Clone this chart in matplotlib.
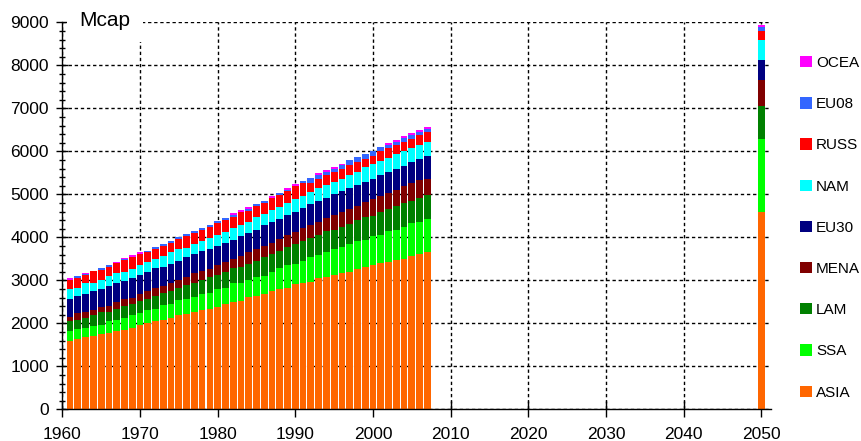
import matplotlib
matplotlib.use("Agg")
import matplotlib.pyplot as plt
from matplotlib.ticker import MultipleLocator
from matplotlib.patches import Patch
import numpy as np

plt.rcParams['font.family'] = ['Liberation Sans', 'DejaVu Sans']

years = list(range(1961, 2008)) + [2050]

# stacked from the bottom up
ASIA = [1588, 1635, 1681, 1704, 1759, 1774, 1821, 1852, 1898, 1952, 1999, 2053,
        2076, 2123, 2185, 2216, 2262, 2309, 2332, 2379, 2448, 2495, 2518, 2611, 2634,
        2681, 2751, 2798, 2821, 2914, 2937, 2960, 3053, 3077, 3123, 3170, 3193, 3263,
        3309, 3356, 3402, 3426, 3472, 3495, 3565, 3612, 3658, 4590]
SSA = [233, 233, 217, 233, 209, 279, 256, 279, 287, 279, 310, 271,
       349, 326, 357, 341, 349, 372, 372, 419, 372, 442, 419, 395, 442,
       419, 442, 488, 535, 465, 512, 581, 535, 581, 605, 605, 651, 651,
       628, 674, 651, 721, 698, 744, 767, 744, 767, 1700]
LAM = [233, 209, 233, 256, 287, 217, 256, 279, 264, 287, 248, 310,
       279, 302, 279, 333, 326, 326, 372, 326, 372, 349, 372, 372, 372,
       442, 419, 395, 419, 465, 465, 442, 465, 488, 442, 465, 465, 488,
       535, 465, 535, 512, 558, 558, 512, 558, 558, 760]
MENA = [101, 155, 132, 116, 116, 132, 171, 147, 147, 163, 202, 178,
        163, 186, 186, 186, 233, 209, 178, 233, 233, 209, 256, 279, 279,
        256, 256, 279, 279, 279, 302, 302, 302, 302, 349, 349, 349, 326,
        349, 395, 372, 372, 372, 395, 419, 419, 372, 600]
EU30 = [411, 403, 419, 450, 426, 465, 434, 419, 457, 442, 442, 473,
        442, 442, 442, 465, 442, 465, 473, 450, 442, 442, 465, 442, 442,
        488, 488, 465, 465, 465, 465, 488, 488, 465, 488, 488, 488, 488,
        465, 465, 488, 488, 488, 465, 488, 488, 535, 470]
NAM = [233, 178, 248, 186, 202, 233, 225, 225, 209, 233, 225, 202,
       256, 279, 279, 217, 233, 225, 256, 248, 264, 279, 256, 256, 302,
       256, 279, 279, 279, 302, 279, 279, 302, 302, 279, 279, 302, 302,
       349, 349, 326, 326, 349, 349, 326, 326, 326, 465]
RUSS = [209, 240, 194, 271, 240, 209, 233, 271, 271, 264, 225, 240,
        233, 209, 225, 271, 256, 264, 256, 279, 271, 256, 302, 256, 256,
        256, 279, 271, 279, 302, 302, 209, 209, 225, 233, 233, 233, 233,
        186, 186, 233, 233, 209, 209, 209, 233, 233, 215]
EU08 = [0, 47, 16, 0, 47, 47, 0, 16, 0, 0, 30, 47,
        47, 47, 47, 39, 47, 39, 47, 47, 47, 47, 0, 47, 47,
        47, 0, 47, 23, 0, 47, 116, 93, 78, 70, 93, 116, 116,
        116, 116, 93, 70, 70, 93, 93, 70, 70, 90]
OCEA = [47, 0, 39, 0, 0, 0, 39, 31, 62, 39, 0, 0,
        0, 0, 0, 0, 0, 0, 0, 0, 0, 47, 47, 47, 0,
        0, 47, 0, 47, 47, 0, 0, 47, 47, 47, 23, 0, 0,
        0, 0, 0, 47, 47, 47, 47, 47, 47, 40]

series = [ASIA, SSA, LAM, MENA, EU30, NAM, RUSS, EU08, OCEA]
labels = ['ASIA', 'SSA', 'LAM', 'MENA', 'EU30', 'NAM', 'RUSS', 'EU08', 'OCEA']
colors = ['#FF6600', '#00FF00', '#008000', '#800000', '#000080',
          '#00FFFF', '#FF0000', '#3366FF', '#FF00FF']

fig = plt.figure(figsize=(8.62, 4.41), dpi=100)
ax = fig.add_axes([62.3 / 862, 31.7 / 441, 708.4 / 862, 387 / 441])

bottom = np.zeros(len(years))
for vals, lab, col in zip(series, labels, colors):
    ax.bar(years, vals, width=0.87, bottom=bottom, color=col, label=lab,
           linewidth=0, zorder=2)
    bottom += np.array(vals)

ax.set_xlim(1960, 2051.2)
ax.set_ylim(0, 9000)
ax.xaxis.set_major_locator(MultipleLocator(10))
ax.yaxis.set_major_locator(MultipleLocator(1000))
ax.yaxis.set_minor_locator(MultipleLocator(200))

ax.set_axisbelow(True)
ax.grid(True, which='major', color='black', linewidth=1.0,
        linestyle=(0, (2.4, 2.0)), zorder=0)

for s in ['top', 'right']:
    ax.spines[s].set_visible(False)
ax.spines['left'].set_linewidth(1.0)
ax.spines['bottom'].set_linewidth(1.0)

ax.tick_params(axis='x', which='major', direction='inout', length=11, width=1,
               labelsize=12.5, pad=7)
ax.tick_params(axis='y', which='major', direction='inout', length=9, width=1,
               labelsize=12.5, pad=5)
ax.tick_params(axis='y', which='minor', direction='inout', length=4, width=1)

ax.text(1962.2, 9050, 'Mcap', fontsize=15, ha='left', va='center', zorder=5,
        bbox=dict(facecolor='white', edgecolor='none', boxstyle='square,pad=0.6'),
        clip_on=False)

handles = [Patch(facecolor=c, edgecolor='none', label=l) for c, l in zip(colors, labels)]
fig.legend(handles[::-1], labels[::-1], loc='upper left',
           bbox_to_anchor=(800 / 862, 1 - 56 / 441), frameon=False,
           fontsize=11, handlelength=0.76, handleheight=0.76,
           handletextpad=0.3, labelspacing=1.78, borderpad=0, borderaxespad=0)

fig.savefig('out.png', dpi=100)
